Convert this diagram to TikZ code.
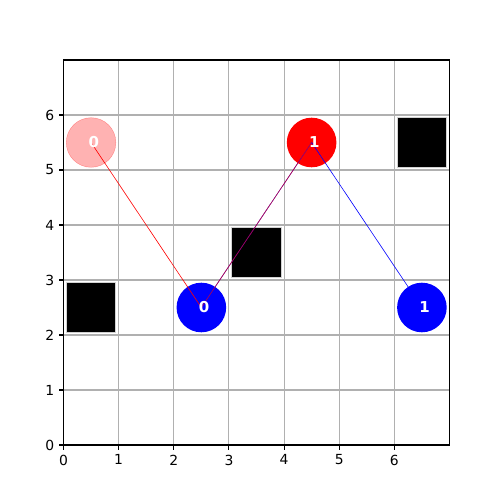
\documentclass[tikz,border=0pt]{standalone}
\usepackage{fontspec}
\setmainfont{DejaVu Sans}
\begin{document}
\begin{tikzpicture}[x=1pt,y=1pt,
  gridline/.style={draw={rgb,255:red,176;green,176;blue,176},line width=1.1pt},
  spine/.style={draw=black,line width=1.1pt},
  ticklab/.style={font=\fontsize{13.9}{16}\selectfont},
  agent/.style={circle,minimum size=49.6pt,inner sep=0pt},
  agentlab/.style={inner sep=0pt,font=\bfseries\fontsize{15}{17}\selectfont,text=white,xshift=2.8pt},
  obst/.style={rectangle,minimum size=49.6pt,inner sep=0pt,fill=black,draw={rgb,255:red,210;green,210;blue,210},line width=0.8pt},
  path/.style={line width=0.6pt}]
\useasboundingbox (0,0) rectangle (500,500);
\begin{scope}[shift={(63.5,55)},x=55.14pt,y=55pt]
  % grid
  \foreach \i in {1,...,6} {
    \draw[gridline] (\i,0) -- (\i,7);
    \draw[gridline] (0,\i) -- (7,\i);
  }
  % obstacles
  \node[obst] (o1) at (0.5,2.5) {};
  \node[obst] (o2) at (3.5,3.5) {};
  \node[obst] (o3) at (6.5,5.5) {};
  % agents
  \node[agent,fill=red,fill opacity=0.3,draw=red,draw opacity=0.35] (g0) at (0.5,5.5) {};
  \node[agent,fill=blue] (a0) at (2.5,2.5) {};
  \node[agent,fill=red] (g1) at (4.5,5.5) {};
  \node[agent,fill=blue] (a1) at (6.5,2.5) {};
  % paths
  \draw[path,red] (g0.center) -- (a0.center);
  \draw[path,blue] (a0.center) -- (g1.center);
  \draw[path,red,opacity=0.75] (a0.center) -- (g1.center);
  \draw[path,blue] (g1.center) -- (a1.center);
  % labels
  \node[agentlab] (l0) at (g0) {0};
  \node[agentlab] (l1) at (a0) {0};
  \node[agentlab] (l2) at (g1) {1};
  \node[agentlab] (l3) at (a1) {1};
  % spines
  \draw[spine] (0,0) rectangle (7,7);
  % ticks
  \foreach \i in {0,...,6} {
    \draw[black,line width=1.1pt] (\i,0) -- ++(0,-4.9pt);
    \node[ticklab,anchor=north,inner sep=0pt] (xt\i) at ([yshift=-9.5pt]\i,0) {\i};
    \draw[black,line width=1.1pt] (0,\i) -- ++(-4.9pt,0);
    \node[ticklab,anchor=east,inner sep=0pt] (yt\i) at ([xshift=-9pt]0,\i) {\i};
  }
\end{scope}
\end{tikzpicture}
\end{document}
